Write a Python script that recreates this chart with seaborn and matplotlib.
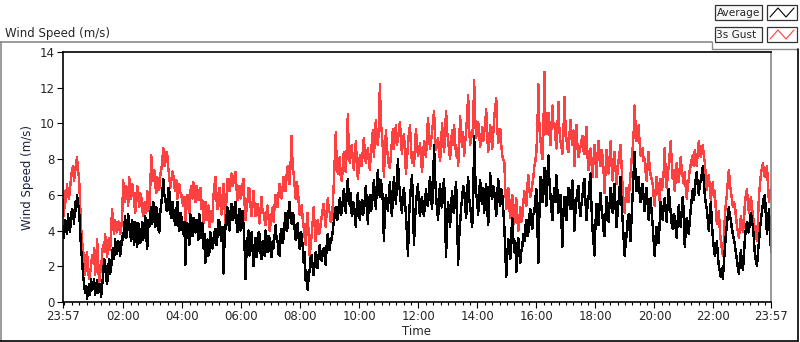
import pandas as pd
import seaborn as sns
import matplotlib.pyplot as plt
import matplotlib.dates as mdates
from matplotlib.lines import Line2D
from matplotlib.patches import Rectangle

# wind speed readings (m/s), 23:57 -> 23:57 next day
average = [
    4.0, 3.6, 4.6, 4.1, 3.8, 4.9, 4.3, 3.9, 4.8, 5.2,
    5.0, 4.4, 5.6, 5.1, 6.0, 5.5, 5.2, 4.1, 3.0, 2.4,
    1.5, 1.0, 0.5, 0.9, 0.2, 0.6, 1.0, 0.4, 1.3, 0.7,
    0.8, 1.3, 0.4, 0.7, 1.2, 0.5, 0.6, 1.0, 0.3, 0.9,
    1.5, 2.4, 2.2, 1.4, 1.0, 1.8, 2.4, 1.6, 1.9, 2.8,
    3.0, 2.4, 3.5, 2.9, 2.7, 3.4, 3.3, 2.6, 3.1, 3.7,
    3.5, 4.2, 4.8, 3.6, 3.9, 4.9, 4.5, 3.8, 3.4, 4.6,
    3.8, 3.2, 4.5, 4.0, 3.1, 4.4, 4.2, 3.3, 3.6, 4.5,
    3.5, 4.1, 4.8, 3.7, 3.0, 4.6, 4.2, 5.0, 5.3, 4.4,
    5.6, 4.8, 4.2, 5.3, 5.0, 4.1, 3.9, 5.0, 5.5, 6.1,
    6.9, 6.0, 5.8, 5.2, 5.1, 6.4, 6.2, 5.0, 4.7, 5.6,
    5.2, 4.6, 4.3, 5.1, 5.6, 4.4, 4.0, 5.0, 4.8, 4.1,
    3.8, 4.5, 2.1, 3.6, 4.4, 3.8, 3.2, 4.9, 4.6, 3.7,
    4.7, 4.1, 3.9, 4.6, 4.2, 3.5, 4.9, 4.3, 3.6, 4.4,
    3.0, 3.8, 2.2, 2.9, 3.5, 2.6, 2.8, 3.9, 3.6, 3.0,
    3.3, 3.9, 4.1, 3.2, 3.7, 4.6, 4.5, 3.8, 3.4, 4.2,
    1.6, 3.3, 4.2, 4.8, 5.3, 4.4, 4.0, 5.0, 5.5, 4.6,
    4.7, 5.3, 5.6, 4.5, 3.9, 4.8, 5.2, 4.0, 4.4, 5.1,
    4.3, 3.2, 1.3, 2.8, 3.5, 4.0, 2.6, 3.3, 3.9, 3.0,
    2.0, 3.1, 3.6, 2.5, 2.9, 3.9, 3.8, 2.8, 2.4, 3.4,
    3.2, 2.6, 4.0, 3.3, 2.8, 3.7, 3.6, 2.9, 2.5, 3.4,
    3.0, 3.7, 4.3, 3.5, 3.4, 2.7, 2.6, 3.8, 4.1, 3.3,
    3.6, 4.4, 5.0, 4.0, 4.2, 5.1, 5.6, 4.7, 4.4, 5.0,
    4.8, 4.1, 3.5, 4.2, 4.4, 3.6, 3.0, 3.9, 3.8, 3.1,
    2.2, 2.8, 1.2, 1.7, 0.7, 1.4, 1.8, 2.5, 2.6, 1.9,
    1.5, 2.2, 2.8, 2.0, 1.9, 2.7, 3.2, 2.5, 2.3, 2.9,
    3.0, 2.5, 2.1, 3.2, 3.8, 3.1, 2.9, 3.6, 3.5, 4.0,
    4.5, 5.0, 5.3, 4.6, 4.7, 5.4, 5.8, 4.9, 5.0, 5.7,
    6.3, 5.6, 5.0, 6.2, 6.9, 5.8, 5.4, 6.1, 4.8, 5.6,
    5.5, 4.8, 4.2, 5.4, 6.1, 5.2, 4.6, 5.3, 5.7, 4.9,
    5.0, 5.8, 6.5, 5.4, 4.4, 5.6, 6.0, 5.1, 5.3, 6.2,
    6.8, 6.0, 5.2, 6.6, 7.4, 6.3, 5.9, 6.8, 6.4, 5.6,
    3.4, 5.2, 6.0, 5.4, 5.1, 6.1, 6.7, 5.5, 4.8, 6.0,
    7.0, 6.2, 5.5, 6.8, 8.0, 6.6, 6.2, 5.4, 5.0, 6.1,
    6.4, 5.6, 4.9, 3.8, 2.6, 4.6, 5.8, 6.5, 7.1, 5.4,
    3.2, 4.6, 5.5, 6.2, 6.6, 5.3, 4.8, 5.6, 5.9, 5.1,
    4.8, 5.7, 6.3, 5.5, 5.4, 6.4, 7.0, 6.0, 5.2, 6.3,
    8.8, 7.0, 6.0, 5.2, 4.6, 5.9, 6.6, 5.5, 5.3, 6.4,
    6.9, 4.8, 2.5, 4.6, 5.6, 4.9, 4.2, 5.4, 6.2, 5.1,
    5.0, 6.1, 6.7, 4.8, 2.1, 3.6, 4.4, 5.3, 5.8, 6.5,
    6.3, 5.4, 4.7, 6.0, 7.0, 5.8, 5.4, 4.8, 4.2, 5.5,
    9.3, 7.2, 6.1, 5.6, 4.9, 6.2, 6.8, 5.8, 5.5, 6.4,
    5.0, 6.1, 6.6, 5.3, 4.3, 5.8, 7.2, 6.0, 5.8, 6.5,
    6.2, 5.5, 4.8, 6.0, 6.9, 5.7, 5.4, 6.3, 6.0, 5.2,
    4.3, 2.8, 1.4, 2.6, 3.5, 3.0, 2.4, 3.8, 4.7, 3.6,
    2.8, 3.4, 1.7, 2.5, 3.6, 2.9, 2.2, 2.8, 3.1, 3.8,
    3.4, 4.2, 4.6, 3.7, 3.9, 4.8, 5.2, 4.4, 4.1, 4.9,
    5.0, 5.8, 6.3, 4.4, 2.2, 4.8, 7.0, 6.1, 5.6, 6.6,
    7.5, 6.3, 5.4, 7.0, 8.2, 6.8, 6.0, 5.2, 4.6, 5.8,
    6.4, 5.6, 7.1, 6.2, 5.0, 5.7, 6.0, 4.5, 3.1, 5.0,
    5.9, 5.2, 4.6, 5.7, 6.4, 5.5, 5.2, 6.1, 6.8, 5.6,
    4.0, 5.1, 5.7, 6.2, 6.5, 5.4, 4.8, 5.5, 5.9, 6.6,
    6.9, 5.6, 4.6, 5.4, 5.8, 6.6, 7.2, 5.3, 4.1, 3.4,
    2.6, 4.4, 5.5, 4.8, 4.3, 5.4, 6.1, 5.2, 4.8, 4.0,
    3.7, 4.8, 5.9, 5.2, 4.5, 5.5, 6.4, 5.6, 5.0, 6.0,
    6.6, 5.3, 4.2, 5.0, 5.6, 6.4, 7.0, 5.5, 4.6, 3.6,
    2.6, 3.2, 3.8, 4.5, 4.9, 4.1, 3.4, 4.8, 6.0, 7.2,
    8.4, 7.1, 6.2, 6.8, 7.0, 6.1, 5.6, 6.3, 6.6, 5.8,
    5.1, 5.8, 6.4, 5.5, 4.6, 5.2, 5.8, 5.0, 4.3, 3.4,
    2.6, 3.5, 4.2, 3.6, 3.3, 4.5, 5.6, 5.0, 4.6, 5.4,
    5.8, 5.1, 4.5, 5.5, 6.3, 5.6, 5.0, 4.4, 4.1, 4.9,
    4.8, 4.1, 3.6, 4.6, 5.4, 4.8, 4.2, 5.1, 5.9, 5.0,
    3.1, 4.0, 4.7, 4.2, 3.8, 4.6, 5.2, 5.8, 6.3, 5.7,
    6.2, 6.9, 7.3, 6.5, 6.0, 6.6, 6.8, 7.2, 7.6, 6.7,
    6.0, 5.5, 5.2, 4.6, 4.0, 4.8, 5.6, 4.5, 3.6, 3.0,
    2.6, 3.1, 3.4, 2.6, 2.0, 1.7, 1.4, 1.9, 1.3, 2.2,
    3.0, 3.8, 4.3, 4.9, 5.3, 4.8, 4.6, 4.1, 3.8, 3.5,
    3.2, 2.7, 2.4, 1.9, 1.6, 2.3, 2.9, 2.2, 1.8, 2.6,
    3.6, 4.1, 4.5, 4.0, 3.9, 4.6, 5.0, 4.5, 4.2, 3.5,
    2.6, 2.3, 2.0, 2.8, 3.4, 4.1, 4.6, 5.1, 5.5, 5.9,
    6.0, 4.6, 3.8, 4.5, 5.2, 4.0, 2.8,
]

gust = [
    5.4, 4.8, 6.2, 5.6, 6.6, 6.0, 5.8, 6.4, 6.9, 7.4,
    7.6, 6.8, 7.2, 7.8, 8.1, 7.3, 7.0, 5.6, 4.2, 3.4,
    3.0, 2.2, 1.5, 2.4, 2.8, 1.8, 1.3, 1.6, 2.0, 2.6,
    2.2, 3.0, 1.5, 2.1, 3.5, 2.4, 1.0, 1.6, 1.8, 2.7,
    3.2, 2.8, 3.8, 3.1, 2.5, 3.3, 3.6, 2.9, 4.2, 5.2,
    4.2, 3.8, 4.6, 4.1, 3.9, 4.5, 4.4, 3.8, 4.1, 4.8,
    6.8, 6.0, 5.6, 6.5, 6.2, 5.4, 7.0, 6.3, 5.8, 6.6,
    6.2, 5.6, 5.0, 5.8, 6.5, 5.9, 5.3, 6.1, 5.9, 5.2,
    4.8, 5.5, 5.6, 5.0, 6.2, 5.7, 5.1, 6.4, 8.2, 7.0,
    6.8, 7.4, 6.6, 6.1, 7.0, 6.4, 6.3, 7.1, 7.4, 7.9,
    8.6, 7.6, 7.8, 8.4, 8.2, 7.5, 7.0, 6.4, 6.8, 7.3,
    7.1, 6.5, 6.2, 6.8, 5.8, 6.3, 6.6, 6.1, 6.0, 5.6,
    5.4, 5.9, 4.4, 5.2, 6.0, 5.4, 5.0, 6.2, 6.5, 5.8,
    6.7, 6.0, 5.6, 6.5, 6.3, 5.7, 6.0, 6.4, 5.2, 5.7,
    4.4, 5.1, 5.6, 4.6, 4.9, 5.4, 4.2, 5.0, 5.1, 4.5,
    5.9, 6.5, 7.0, 5.8, 5.2, 6.0, 6.4, 5.5, 4.9, 5.8,
    6.6, 5.4, 4.3, 5.8, 6.9, 6.3, 6.2, 6.8, 7.2, 6.5,
    6.7, 7.0, 7.3, 6.4, 5.7, 6.2, 6.5, 5.8, 6.0, 6.6,
    6.9, 5.6, 4.6, 5.2, 5.7, 6.4, 6.3, 5.4, 4.8, 5.5,
    6.2, 5.4, 4.8, 5.3, 5.5, 4.9, 4.4, 5.2, 5.9, 5.0,
    5.0, 4.6, 4.3, 5.0, 5.4, 4.7, 4.0, 4.4, 4.9, 5.3,
    4.5, 5.4, 6.0, 5.6, 5.3, 6.1, 6.6, 6.0, 5.8, 6.4,
    7.0, 6.4, 6.2, 7.1, 7.6, 6.9, 6.6, 7.8, 9.3, 7.5,
    7.2, 6.5, 5.8, 6.7, 6.4, 5.6, 4.9, 5.3, 5.4, 4.7,
    4.2, 3.6, 3.2, 4.4, 5.0, 3.7, 2.6, 3.2, 3.8, 4.5,
    5.3, 4.2, 3.4, 4.0, 4.6, 3.8, 3.9, 4.4, 4.8, 5.2,
    5.5, 4.8, 4.2, 5.1, 5.8, 5.2, 5.0, 4.5, 4.6, 5.4,
    6.6, 8.0, 9.5, 7.6, 7.2, 7.8, 8.1, 7.0, 6.8, 7.5,
    8.4, 7.6, 7.3, 8.6, 10.5, 8.4, 7.8, 8.3, 8.8, 7.9,
    7.4, 8.2, 9.0, 7.8, 6.9, 7.5, 8.2, 7.7, 7.6, 8.5,
    9.2, 8.4, 7.8, 8.2, 8.6, 7.9, 7.4, 8.3, 8.9, 9.6,
    8.1, 9.3, 10.2, 9.0, 8.8, 9.8, 12.2, 10.0, 9.4, 8.5,
    7.0, 8.4, 9.6, 8.6, 8.2, 7.6, 7.5, 8.3, 9.0, 9.7,
    8.6, 9.3, 9.9, 8.8, 9.1, 9.6, 10.1, 9.0, 8.3, 9.2,
    9.4, 8.3, 7.2, 8.0, 8.8, 9.5, 9.9, 8.6, 7.8, 8.4,
    7.6, 8.8, 9.7, 8.7, 8.2, 8.5, 8.9, 8.0, 7.3, 8.1,
    9.0, 8.4, 8.1, 9.4, 10.3, 9.2, 8.6, 9.0, 9.5, 10.1,
    10.7, 9.3, 8.5, 8.9, 9.2, 8.4, 7.9, 8.8, 10.0, 9.1,
    8.4, 9.6, 10.7, 9.5, 9.1, 8.5, 8.0, 8.9, 9.6, 8.8,
    9.9, 9.0, 8.2, 8.6, 7.6, 8.8, 10.4, 9.3, 8.7, 9.5,
    8.2, 8.9, 9.6, 10.4, 11.6, 9.7, 8.8, 9.2, 9.3, 10.0,
    12.4, 10.3, 9.2, 9.7, 10.1, 9.4, 8.7, 9.1, 9.8, 9.0,
    9.5, 10.0, 10.8, 9.3, 8.4, 9.1, 9.9, 9.2, 8.6, 9.4,
    10.3, 10.9, 11.4, 9.8, 8.9, 9.2, 9.7, 8.8, 8.2, 8.0,
    7.9, 6.4, 5.2, 5.8, 6.4, 5.4, 4.7, 5.5, 6.0, 5.1,
    4.4, 5.2, 5.8, 4.7, 4.0, 4.6, 5.3, 4.5, 4.8, 5.5,
    6.2, 5.7, 5.4, 6.4, 7.1, 6.3, 5.9, 6.2, 6.6, 7.0,
    7.6, 7.9, 8.4, 9.6, 12.2, 10.0, 9.2, 8.5, 8.0, 9.4,
    12.9, 10.5, 9.4, 9.9, 10.6, 9.6, 8.8, 9.7, 11.0, 9.8,
    10.0, 9.2, 8.6, 9.7, 11.2, 9.6, 9.0, 8.7, 8.3, 9.4,
    11.5, 10.0, 9.1, 8.6, 8.4, 9.3, 10.2, 9.2, 8.8, 9.6,
    7.6, 8.9, 9.9, 8.7, 8.1, 8.4, 8.7, 9.0, 9.3, 8.5,
    8.3, 9.1, 9.8, 8.2, 7.4, 8.0, 8.6, 7.8, 7.0, 7.9,
    8.8, 7.9, 7.0, 8.2, 9.0, 8.0, 7.6, 8.5, 8.2, 7.4,
    6.1, 7.4, 8.5, 7.8, 7.2, 8.0, 9.0, 7.7, 6.8, 7.6,
    8.4, 7.4, 6.6, 7.3, 7.9, 8.4, 8.8, 7.6, 6.4, 5.6,
    5.0, 5.8, 6.4, 6.0, 5.6, 6.5, 7.2, 8.0, 8.6, 9.4,
    11.0, 9.8, 9.0, 9.5, 9.9, 8.9, 8.2, 8.5, 8.6, 7.9,
    8.0, 7.3, 6.8, 7.7, 8.4, 7.5, 7.1, 6.9, 6.6, 5.9,
    5.4, 6.3, 7.0, 6.5, 6.0, 5.7, 6.9, 6.3, 6.5, 7.3,
    8.6, 7.2, 6.4, 7.1, 7.6, 8.3, 9.0, 7.8, 6.9, 7.4,
    6.2, 7.0, 7.8, 7.1, 6.7, 7.5, 8.1, 7.4, 7.0, 6.6,
    7.3, 6.4, 5.8, 6.5, 6.9, 7.4, 7.7, 8.0, 8.2, 7.6,
    8.5, 8.0, 7.6, 8.4, 9.0, 8.5, 8.1, 8.6, 8.8, 8.2,
    7.8, 7.0, 6.3, 6.8, 7.1, 6.4, 5.7, 6.3, 6.7, 5.9,
    6.2, 5.1, 4.4, 4.9, 5.1, 4.0, 3.4, 3.0, 2.6, 3.5,
    4.8, 5.5, 6.0, 6.8, 7.4, 6.6, 6.2, 5.8, 5.3, 5.6,
    5.4, 4.8, 4.3, 3.9, 3.6, 4.2, 4.8, 4.4, 3.9, 4.5,
    5.6, 6.0, 6.3, 5.5, 5.0, 5.4, 5.9, 5.3, 4.8, 4.4,
    4.0, 3.7, 3.4, 4.6, 6.0, 6.6, 7.2, 7.5, 7.8, 7.1,
    7.0, 7.4, 7.6, 6.5, 5.6, 6.1, 6.4,
]

series_names = ['Average', '3s Gust']
series_colors = ['black', '#ff4040']
tick_hours = ['02:00', '04:00', '06:00', '08:00', '10:00',
              '12:00', '14:00', '16:00', '18:00', '20:00', '22:00']

START = pd.Timestamp('2015-06-01 23:57')
END = START + pd.Timedelta(hours=24)

W, H = 800, 342


def fx(x):
    return x / W


def fy(y):
    return 1 - y / H


times = pd.date_range(START, END, periods=len(average))
df = pd.DataFrame({'Time': times, 'Average': average, '3s Gust': gust})

sns.set_style('white')
plt.rcParams['font.family'] = ['DejaVu Sans']

fig = plt.figure(figsize=(W / 100, H / 100), dpi=100)
ax = fig.add_axes([fx(63), fy(302), fx(771) - fx(63), fy(52) - fy(302)])

# gust underneath, average on top
sns.lineplot(data=df, x='Time', y='3s Gust', ax=ax, color=series_colors[1],
             linewidth=1.0, antialiased=False)
sns.lineplot(data=df, x='Time', y='Average', ax=ax, color=series_colors[0],
             linewidth=1.0, antialiased=False)

ax.set_xlim(START, END)
ax.set_ylim(0, 14)
ax.set_yticks(range(0, 15, 2))

day2 = START.normalize() + pd.Timedelta(days=1)
major = [START] + [day2 + pd.Timedelta(t + ':00') for t in tick_hours] + [END]
ax.set_xticks(major)
ax.set_xticklabels(['23:57'] + tick_hours + ['23:57'])
ax.xaxis.set_minor_locator(mdates.MinuteLocator(byminute=[0, 15, 30, 45]))

ax.tick_params(axis='both', which='major', direction='out', length=4, width=0.8,
               labelsize=8.5, pad=2, color='black', left=True, bottom=True)
ax.tick_params(axis='x', which='minor', direction='out', length=2.5, width=0.8,
               color='black', bottom=True)

ax.set_xlabel('Time', fontsize=8.5, labelpad=1)
ax.set_ylabel('Wind Speed (m/s)', fontsize=8.5, labelpad=4, color='#1a2040')

for side in ['left', 'bottom', 'top']:
    ax.spines[side].set_color('black')
    ax.spines[side].set_linewidth(1.2)
ax.spines['right'].set_color('#888888')
ax.spines['right'].set_linewidth(1.2)

# chart frame
gray = '#8a8a8a'
fig.add_artist(Line2D([fx(0), fx(712)], [fy(42), fy(42)], color=gray, lw=1.2))
fig.add_artist(Line2D([fx(0.5), fx(0.5)], [fy(42), fy(342)], color=gray, lw=1.2))
fig.add_artist(Line2D([fx(712), fx(712)], [fy(42), fy(49)], color=gray, lw=1.0))
fig.add_artist(Line2D([fx(712), fx(797)], [fy(49), fy(49)], color=gray, lw=1.0))
fig.add_artist(Line2D([fx(0), fx(798)], [fy(340.5), fy(340.5)], color='black', lw=1.2))
fig.add_artist(Line2D([fx(797.5), fx(797.5)], [fy(49), fy(341)], color='black', lw=1.2))

fig.text(fx(5), fy(33), 'Wind Speed (m/s)', fontsize=8.5, va='center', ha='left')

# legend boxes
for i, (name, col) in enumerate(zip(series_names, series_colors)):
    top = 5 + i * 22
    fig.add_artist(Rectangle((fx(715), fy(top + 15)), fx(762) - fx(715),
                             fy(top) - fy(top + 15), facecolor='#f7f7f7',
                             edgecolor='#333333', lw=0.9))
    fig.text(fx(716.5), fy(top + 7.5), name, fontsize=7.6, va='center', ha='left')
    fig.add_artist(Rectangle((fx(767), fy(top + 15)), fx(797) - fx(767),
                             fy(top) - fy(top + 15), facecolor='white',
                             edgecolor='#333333', lw=0.9))
    zx = [770, 778, 786, 794]
    zy = [top + 12, top + 3, top + 12, top + 3]
    fig.add_artist(Line2D([fx(v) for v in zx], [fy(v) for v in zy],
                          color=col, lw=0.8))

fig.savefig('out.png', dpi=100)
